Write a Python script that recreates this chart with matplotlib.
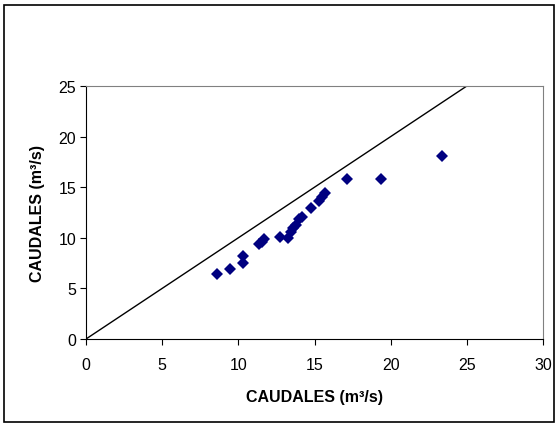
import numpy as np
import matplotlib.pyplot as plt
from matplotlib.patches import Rectangle

plt.rcParams['font.family'] = ['Liberation Sans', 'DejaVu Sans']

caudal_x = [8.62, 9.43, 10.29, 10.29, 11.38, 11.55, 11.71, 12.74, 13.28,
            13.44, 13.61, 13.79, 13.97, 14.16, 14.77, 15.32, 15.50, 15.71,
            17.12, 19.37, 23.40]
caudal_y = [6.42, 6.91, 8.16, 7.47, 9.38, 9.62, 9.87, 10.04, 9.94,
            10.59, 10.93, 11.25, 11.85, 12.07, 12.93, 13.65, 13.99, 14.38,
            15.79, 15.79, 18.13]
linea = [0, 25]

fig = plt.figure(figsize=(5.58, 4.27), dpi=100)
ax = fig.add_axes([86/558, 1 - 340/427, (543-86)/558, (340-87)/427])

ax.plot(linea, linea, color='black', lw=1)
ax.plot(caudal_x, caudal_y, 'D', color='#000080', markersize=6.5, markeredgewidth=0)

ax.set_xlim(0, 30)
ax.set_ylim(0, 25)
ax.set_xticks(range(0, 31, 5))
ax.set_yticks(range(0, 26, 5))
ax.tick_params(direction='out', length=4, labelsize=11.5, colors='black')
ax.tick_params(axis='x', pad=9)
ax.tick_params(axis='y', pad=3)
ax.spines['top'].set_color('#808080')
ax.spines['right'].set_color('#808080')
for s in ['left', 'bottom']:
    ax.spines[s].set_color('black')

ax.set_xlabel('CAUDALES (m³/s)', fontsize=11.5, weight='bold', labelpad=12)
ax.set_ylabel('CAUDALES (m³/s)', fontsize=11.5, weight='bold', labelpad=10)

# outer chart border
fig.patches.append(Rectangle((4/558, 4/427), 550/558, 417/427, transform=fig.transFigure,
                             fill=False, edgecolor='black', lw=1.2))

fig.savefig('out.png', dpi=100)
